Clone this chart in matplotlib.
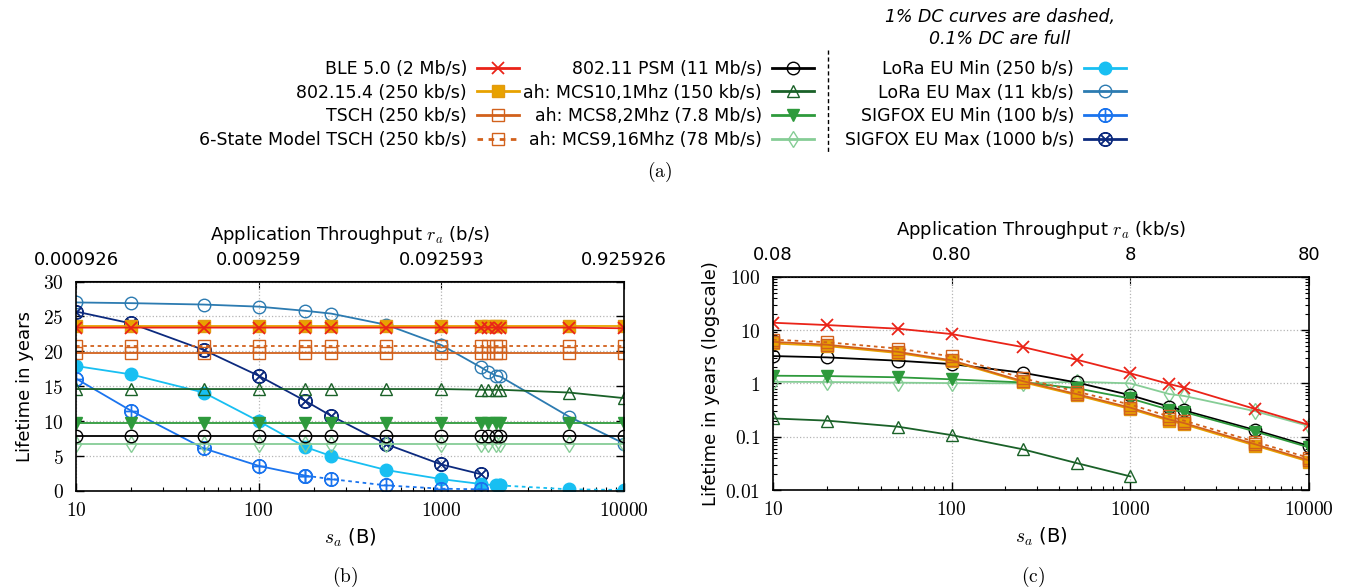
import matplotlib
matplotlib.use("Agg")
import matplotlib.pyplot as plt
from matplotlib.lines import Line2D
from matplotlib.ticker import NullLocator

plt.rcParams['mathtext.fontset'] = 'cm'
plt.rcParams['font.family'] = ['DejaVu Sans']

# payload size s_a (B)
sa_left = [10, 20, 50, 100, 180, 250, 500, 1000, 1650, 1800, 2000, 2100, 5000, 10000]
sa_right = [10, 20, 50, 100, 250, 500, 1000, 1650, 2000, 5000, 10000]

# tick labels
sa_ticks = [10, 100, 1000, 10000]
sa_ticklabels = ['10', '100', '1000', '10000']
thr_b_labels = ['0.000926', '0.009259', '0.092593', '0.925926']
thr_c_labels = ['0.08', '0.80', '8', '80']
years_b_ticks = [0, 5, 10, 15, 20, 25, 30]
years_c_ticks = [0.01, 0.1, 1, 10, 100]
years_c_labels = ['0.01', '0.1', '1', '10', '100']

# (b) lifetime in years
ble_b = [23.4, 23.4, 23.4, 23.4, 23.4, 23.4, 23.4, 23.4, 23.4, 23.4, 23.4, 23.4, 23.4, 23.3]
ieee_b = [23.6, 23.6, 23.6, 23.6, 23.6, 23.6, 23.6, 23.6, 23.6, 23.6, 23.6, 23.6, 23.6, 23.6]
tsch_b = [19.7, 19.7, 19.7, 19.7, 19.7, 19.7, 19.7, 19.7, 19.7, 19.7, 19.7, 19.7, 19.7, 19.7]
tsch6_b = [20.7, 20.7, 20.7, 20.7, 20.7, 20.7, 20.7, 20.7, 20.7, 20.7, 20.7, 20.7, 20.7, 20.7]
psm_b = [7.9, 7.9, 7.9, 7.9, 7.9, 7.9, 7.9, 7.9, 7.9, 7.9, 7.9, 7.9, 7.9, 7.9]
mcs10_b = [14.6, 14.6, 14.6, 14.6, 14.6, 14.6, 14.6, 14.6, 14.5, 14.5, 14.5, 14.5, 14.1, 13.3]
mcs8_b = [9.7, 9.7, 9.7, 9.7, 9.7, 9.7, 9.7, 9.7, 9.7, 9.7, 9.7, 9.7, 9.7, 9.7]
mcs9_b = [6.8, 6.8, 6.8, 6.8, 6.8, 6.8, 6.8, 6.8, 6.8, 6.8, 6.8, 6.8, 6.8, 6.8]
lora_max_b = [27.0, 26.9, 26.7, 26.4, 25.8, 25.4, 23.8, 20.9, 17.7, 17.1, 16.5, 16.4, 10.65, 6.8]

sigfox_max_sa = [10, 20, 50, 100, 180, 250, 500, 1000, 1650]
sigfox_max_b = [25.7, 24.0, 20.2, 16.5, 12.9, 10.75, 6.7, 3.8, 2.4]

lora_min_sa = [10, 20, 50, 100, 180, 250, 500, 1000, 1650, 2000, 2100]
lora_min_b = [17.9, 16.7, 14.1, 10.0, 6.3, 5.0, 3.0, 1.7, 1.0, 0.8, 0.8]
lora_min_dc1_sa = [2100, 5000, 10000]
lora_min_dc1_b = [0.8, 0.24, 0.15]

sigfox_min_sa = [10, 20, 50, 100, 180]
sigfox_min_b = [16.1, 11.5, 6.1, 3.6, 2.2]
sigfox_min_dc1_sa = [180, 250, 500, 1000, 1650]
sigfox_min_dc1_b = [2.2, 1.7, 0.8, 0.33, 0.24]

# (c) lifetime in years, log scale
ble_c = [13.7, 12.4, 10.6, 8.4, 4.8, 2.78, 1.54, 0.97, 0.83, 0.33, 0.166]
ieee_c = [5.6, 5.0, 3.7, 2.6, 1.05, 0.6, 0.33, 0.2, 0.17, 0.068, 0.034]
tsch_c = [6.0, 5.3, 3.9, 2.7, 1.1, 0.63, 0.35, 0.21, 0.18, 0.072, 0.036]
tsch6_c = [6.6, 5.9, 4.5, 3.2, 1.25, 0.7, 0.4, 0.24, 0.2, 0.08, 0.04]
psm_c = [3.25, 3.07, 2.66, 2.3, 1.58, 1.04, 0.6, 0.365, 0.31, 0.133, 0.067]
mcs8_c = [1.39, 1.37, 1.3, 1.19, 1.04, 0.81, 0.52, 0.32, 0.29, 0.125, 0.063]
mcs9_c = [1.07, 1.06, 1.03, 1.01, 1.0, 1.07, 1.0, 0.63, 0.58, 0.30, 0.158]
mcs10_sa_c = [10, 20, 50, 100, 250, 500, 1000]
mcs10_c = [0.22, 0.2, 0.154, 0.107, 0.058, 0.032, 0.018]

# series styles
st = {
    'ble': dict(color='#ea2318', marker='x', ms=8, mew=1.3),
    'ieee': dict(color='#e8a200', marker='s', ms=9, mfc='#e8a200', mec='#e39a10'),
    'tsch': dict(color='#d2611c', marker='s', ms=9, mfc='none'),
    'tsch6': dict(color='#d2611c', marker='s', ms=9, mfc='none', ls=(0, (2, 2))),
    'psm': dict(color='black', marker='o', ms=9, mfc='none'),
    'mcs10': dict(color='#1a6128', marker='^', ms=8, mfc='none'),
    'mcs8': dict(color='#2e9a3c', marker='v', ms=8, mfc='#2e9a3c'),
    'mcs9': dict(color='#86cd96', marker='d', ms=8, mfc='none'),
    'lora_min': dict(color='#18bff2', marker='o', ms=9, mfc='#18bff2'),
    'lora_max': dict(color='#2c7bb1', marker='o', ms=9, mfc='none'),
    'sigfox_min': dict(color='#1b74ee', marker=r'$\oplus$', ms=10, mew=0.8),
    'sigfox_max': dict(color='#0c2a7e', marker=r'$\otimes$', ms=10, mew=0.8),
}
col1 = [('ble', 'BLE 5.0 (2 Mb/s)'), ('ieee', '802.15.4 (250 kb/s)'),
        ('tsch', 'TSCH (250 kb/s)'), ('tsch6', '6-State Model TSCH (250 kb/s)')]
col2 = [('psm', '802.11 PSM (11 Mb/s)'), ('mcs10', 'ah: MCS10,1Mhz (150 kb/s)'),
        ('mcs8', 'ah: MCS8,2Mhz (7.8 Mb/s)'), ('mcs9', 'ah: MCS9,16Mhz (78 Mb/s)')]
col3 = [('lora_min', 'LoRa EU Min (250 b/s)'), ('lora_max', 'LoRa EU Max (11 kb/s)'),
        ('sigfox_min', 'SIGFOX EU Min (100 b/s)'), ('sigfox_max', 'SIGFOX EU Max (1000 b/s)')]

W, H = 1351, 587
fig = plt.figure(figsize=(W / 100, H / 100), dpi=100)

def style(key, **kw):
    d = dict(lw=1.3, ls='-')
    d.update(st[key])
    d.update(kw)
    return d

def frame(ax, ticks, labels, fwd, inv, top_labels, top_title):
    ax.set_xscale('log')
    ax.set_xlim(10, 10000)
    ax.set_xticks(sa_ticks, [r'$\mathrm{%s}$' % s for s in sa_ticklabels], fontsize=14)
    ax.set_yticks(ticks, [r'$\mathrm{%s}$' % s for s in labels], fontsize=14)
    ax.tick_params(which='both', direction='in', top=False, right=True)
    ax.tick_params(which='major', length=6, width=1)
    ax.tick_params(which='minor', length=3, width=0.8)
    ax.tick_params(axis='x', pad=7)
    ax.tick_params(axis='y', pad=9)
    ax.grid(True, which='major', ls=':', color='#b5b5b5', lw=0.9)
    ax.set_xlabel(r'$s_a$ (B)', fontsize=14, labelpad=5)
    for sp in ax.spines.values():
        sp.set_linewidth(1.2)
    sec = ax.secondary_xaxis('top', functions=(fwd, inv))
    sec.set_xticks([fwd(v) for v in sa_ticks], top_labels, fontsize=13)
    sec.xaxis.set_minor_locator(NullLocator())
    sec.tick_params(direction='in', length=6, pad=9)
    sec.set_xlabel(top_title, fontsize=13, labelpad=8)

# (b)
axb = fig.add_axes([76 / W, 1 - 491 / H, 548 / W, 209.5 / H])
axb.plot(sa_left, lora_max_b, **style('lora_max'))
axb.plot(sigfox_max_sa, sigfox_max_b, **style('sigfox_max'))
axb.plot(lora_min_sa, lora_min_b, **style('lora_min'))
axb.plot(lora_min_dc1_sa, lora_min_dc1_b, **style('lora_min', ls=(0, (2, 2))))
axb.plot(sigfox_min_sa, sigfox_min_b, **style('sigfox_min'))
axb.plot(sigfox_min_dc1_sa, sigfox_min_dc1_b, **style('sigfox_min', ls=(0, (2, 2))))
axb.plot(sa_left, mcs9_b, **style('mcs9'))
axb.plot(sa_left, psm_b, **style('psm'))
axb.plot(sa_left, mcs8_b, **style('mcs8'))
axb.plot(sa_left, mcs10_b, **style('mcs10'))
axb.plot(sa_left, tsch_b, **style('tsch'))
axb.plot(sa_left, tsch6_b, **style('tsch6'))
axb.plot(sa_left, ieee_b, **style('ieee'))
axb.plot(sa_left, ble_b, **style('ble'))
axb.set_ylim(0, 30)
frame(axb, years_b_ticks, [str(t) for t in years_b_ticks],
      lambda s: s * 8 / 86400, lambda r: r * 86400 / 8,
      thr_b_labels, r'Application Throughput $r_a$ (b/s)')
axb.set_ylabel('Lifetime in years', fontsize=13, labelpad=6)

# (c)
axc = fig.add_axes([773 / W, 1 - 490 / H, 536 / W, 213.3 / H])
axc.set_yscale('log')
axc.plot(sa_right, mcs9_c, **style('mcs9'))
axc.plot(mcs10_sa_c, mcs10_c, **style('mcs10'))
axc.plot(sa_right, psm_c, **style('psm'))
axc.plot(sa_right, mcs8_c, **style('mcs8'))
axc.plot(sa_right, ieee_c, **style('ieee'))
axc.plot(sa_right, tsch_c, **style('tsch'))
axc.plot(sa_right, tsch6_c, **style('tsch6'))
axc.plot(sa_right, ble_c, **style('ble'))
axc.set_ylim(0.01, 100)
frame(axc, years_c_ticks, years_c_labels,
      lambda s: s * 8 / 1000, lambda r: r * 1000 / 8,
      thr_c_labels, r'Application Throughput $r_a$ (kb/s)')
axc.set_ylabel('Lifetime in years (logscale)', fontsize=13, labelpad=4)

# legend, three columns
def column(items, xr, yt):
    handles = [Line2D([], [], **style(k, lw=2)) for k, _ in items]
    fig.legend(handles, [lab for _, lab in items], loc='upper right',
               bbox_to_anchor=(xr / W, 1 - yt / H), frameon=False,
               markerfirst=False, fontsize=12.5, handlelength=2.4,
               handletextpad=0.6, labelspacing=0.32, borderpad=0,
               borderaxespad=0)

column(col1, 519, 60)
column(col2, 814, 60)
column(col3, 1126, 60)
fig.add_artist(Line2D([828 / W, 828 / W], [1 - 50 / H, 1 - 152 / H],
                      color='black', lw=1, ls=(0, (3, 2))))
fig.text(1000 / W, 1 - 28 / H, '1% DC curves are dashed,\n0.1% DC are full',
         ha='center', va='center', style='italic', fontsize=12.5, linespacing=1.3)

fig.text(660 / W, 1 - 172 / H, r'$\mathrm{(a)}$', ha='center', va='center', fontsize=14)
fig.text(345 / W, 1 - 577 / H, r'$\mathrm{(b)}$', ha='center', va='center', fontsize=14)
fig.text(1033 / W, 1 - 577 / H, r'$\mathrm{(c)}$', ha='center', va='center', fontsize=14)

fig.savefig('out.png', dpi=100)
